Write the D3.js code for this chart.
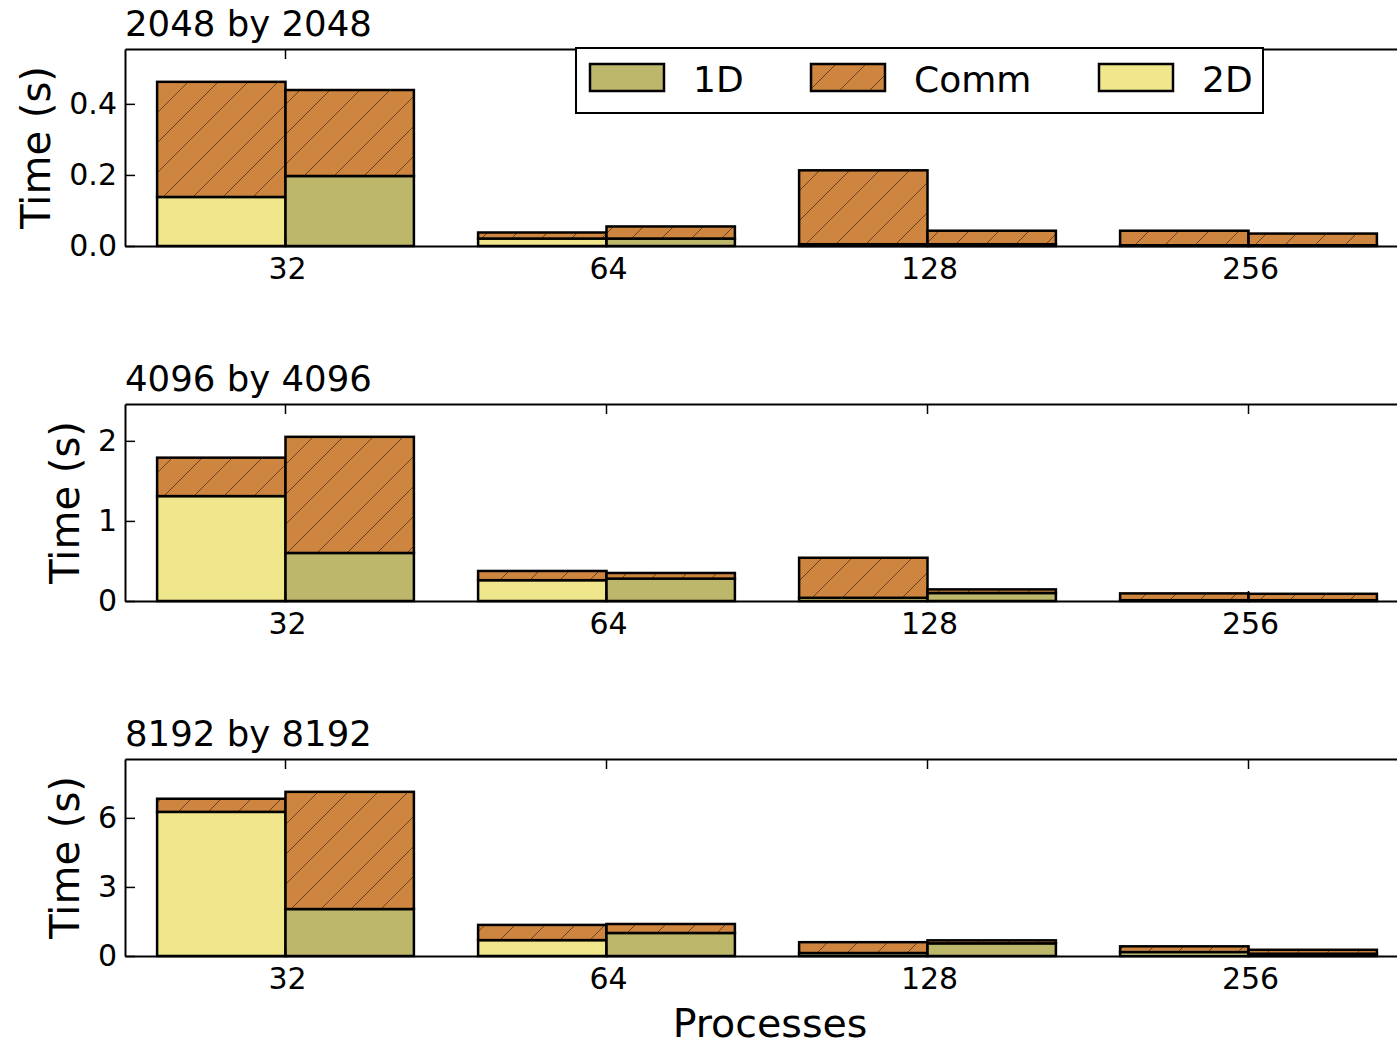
<!DOCTYPE html>
<html>
<head>
<meta charset="utf-8">
<script src="https://cdn.jsdelivr.net/npm/d3@7"></script>
<style>
  body { margin: 0; background: #fff; }
  text { font-family: "DejaVu Sans", sans-serif; }
</style>
</head>
<body>
<div id="chart"></div>
<script>
// Categories
var procs = [32, 64, 128, 256];
var titles = ["2048 by 2048", "4096 by 4096", "8192 by 8192"];
var seriesNames = ["1D", "Comm", "2D"];

// 2048 by 2048
var comp2D_2048 = [0.138, 0.021, 0.005, 0.002];
var comm2D_2048 = [0.324, 0.017, 0.208, 0.041];
var comp1D_2048 = [0.197, 0.021, 0.005, 0.002];
var comm1D_2048 = [0.242, 0.034, 0.038, 0.033];

// 4096 by 4096
var comp2D_4096 = [1.31, 0.26, 0.04, 0.01];
var comm2D_4096 = [0.48, 0.115, 0.50, 0.085];
var comp1D_4096 = [0.60, 0.28, 0.10, 0.01];
var comm1D_4096 = [1.45, 0.07, 0.045, 0.08];

// 8192 by 8192
var comp2D_8192 = [6.26, 0.69, 0.13, 0.17];
var comm2D_8192 = [0.57, 0.66, 0.47, 0.25];
var comp1D_8192 = [2.04, 1.00, 0.55, 0.10];
var comm1D_8192 = [5.09, 0.39, 0.13, 0.17];

// Ticks
var yTicks = [[0, 0.2, 0.4], [0, 1, 2], [0, 3, 6]];
var yFormats = [".1f", "d", "d"];

var panels = [
  {comp2D: comp2D_2048, comm2D: comm2D_2048, comp1D: comp1D_2048, comm1D: comm1D_2048},
  {comp2D: comp2D_4096, comm2D: comm2D_4096, comp1D: comp1D_4096, comm1D: comm1D_4096},
  {comp2D: comp2D_8192, comm2D: comm2D_8192, comp1D: comp1D_8192, comm1D: comm1D_8192}
];

// Colours
var col1D = "#BDB76B", colComm = "#CD853F", col2D = "#F0E68C";

// Dimensions
var W = 1397, H = 1047;
var left = 125, right = 1409, plotH = 197;
var tops = [49, 404, 759];

var svg = d3.select("#chart").append("svg")
  .attr("width", W).attr("height", H);
svg.append("rect").attr("width", W).attr("height", H).attr("fill", "#fff");

// hatch pattern
var defs = svg.append("defs");
var pat = defs.append("pattern")
  .attr("id", "hatch")
  .attr("patternUnits", "userSpaceOnUse")
  .attr("width", 30).attr("height", 30);
pat.append("rect").attr("width", 30).attr("height", 30).attr("fill", colComm);
pat.append("path")
  .attr("d", "M0,30 L30,0 M-7.5,7.5 L7.5,-7.5 M22.5,37.5 L37.5,22.5")
  .attr("stroke", "#3a2410").attr("stroke-width", 1).attr("stroke-opacity", 0.7);

var x = d3.scaleBand().domain(procs).range([left, right])
  .paddingInner(0.2).paddingOuter(0.1);
var xSub = d3.scaleBand().domain(["2D", "1D"]).range([0, x.bandwidth()]);

panels.forEach(function(p, k) {
  buildPanel(p, k);
});

function buildPanel(p, k) {
  var top = tops[k], bottom = top + plotH;
  var totals = procs.map(function(d, i) {
    return Math.max(p.comp2D[i] + p.comm2D[i], p.comp1D[i] + p.comm1D[i]);
  });
  var y = d3.scaleLinear().domain([0, 1.2 * d3.max(totals)]).range([bottom, top]);

  var g = svg.append("g");

  // stacked segments
  var segs = [];
  procs.forEach(function(d, i) {
    segs.push({p: d, s: "2D", y0: 0, y1: p.comp2D[i], fill: col2D});
    segs.push({p: d, s: "2D", y0: p.comp2D[i], y1: p.comp2D[i] + p.comm2D[i], fill: "url(#hatch)"});
    segs.push({p: d, s: "1D", y0: 0, y1: p.comp1D[i], fill: col1D});
    segs.push({p: d, s: "1D", y0: p.comp1D[i], y1: p.comp1D[i] + p.comm1D[i], fill: "url(#hatch)"});
  });

  g.selectAll("rect.bar").data(segs).enter().append("rect")
    .attr("class", "bar")
    .attr("x", function(d) { return x(d.p) + xSub(d.s); })
    .attr("y", function(d) { return y(d.y1); })
    .attr("width", xSub.bandwidth())
    .attr("height", function(d) { return y(d.y0) - y(d.y1); })
    .attr("fill", function(d) { return d.fill; })
    .attr("stroke", "#000").attr("stroke-width", 2.5);

  // axes
  var fmt = d3.format(yFormats[k]);
  var yAxis = g.append("g").attr("transform", "translate(" + left + ",0)")
    .call(d3.axisLeft(y).tickValues(yTicks[k]).tickFormat(fmt)
      .tickSizeInner(-10).tickSizeOuter(0).tickPadding(8));
  var xAxis = g.append("g").attr("transform", "translate(0," + bottom + ")")
    .call(d3.axisBottom(x).tickSizeInner(-10).tickSizeOuter(0).tickPadding(12));
  var xTop = g.append("g").attr("transform", "translate(0," + top + ")")
    .call(d3.axisTop(x).tickSizeInner(-10).tickSizeOuter(0).tickFormat(""));

  [yAxis, xAxis, xTop].forEach(function(a) {
    a.selectAll("path.domain").attr("stroke", "#000").attr("stroke-width", 2);
    a.selectAll(".tick line").attr("stroke", "#000").attr("stroke-width", 1.5);
    a.selectAll("text").attr("font-size", 30).attr("fill", "#000")
      .attr("font-family", "DejaVu Sans, sans-serif");
  });
  xAxis.selectAll(".tick text").attr("dx", 2);

  // title
  svg.append("text").attr("x", left).attr("y", top - 13)
    .attr("font-size", 35.5).text(titles[k]);

  // y label
  var lx = k === 0 ? 50 : 79;
  svg.append("text")
    .attr("transform", "translate(" + lx + "," + (top + plotH / 2) + ") rotate(-90)")
    .attr("text-anchor", "middle")
    .attr("font-size", 40).text("Time (s)");
}

// x label
svg.append("text").attr("x", 770).attr("y", 1037)
  .attr("text-anchor", "middle").attr("font-size", 39.5).text("Processes");

// legend
var leg = svg.append("g");
leg.append("rect").attr("x", 576).attr("y", 48).attr("width", 687).attr("height", 65)
  .attr("fill", "#fff").attr("stroke", "#000").attr("stroke-width", 2);
var legX = [590, 811, 1099];
var legFill = [col1D, "url(#hatch)", col2D];
seriesNames.forEach(function(s, i) {
  leg.append("rect").attr("x", legX[i]).attr("y", 64).attr("width", 74).attr("height", 27)
    .attr("fill", legFill[i]).attr("stroke", "#000").attr("stroke-width", 2.5);
  leg.append("text").attr("x", legX[i] + 103).attr("y", 92)
    .attr("font-size", 36).text(s);
});
</script>
</body>
</html>
